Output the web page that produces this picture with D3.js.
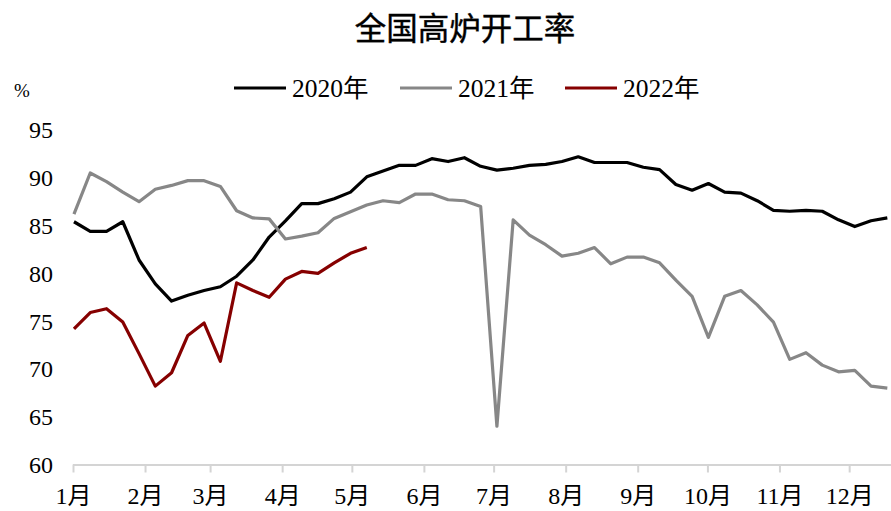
<!DOCTYPE html>
<html>
<head>
<meta charset="utf-8">
<script src="https://cdn.jsdelivr.net/npm/d3@7"></script>
<style>
  body { margin: 0; background: #fff; }
  svg text { font-family: "Liberation Serif", "Noto Sans CJK SC", serif; fill: #000; }
</style>
</head>
<body>
<script>
// weekly blast furnace utilisation (%), one value per week from early Jan
const s2020 = [85.4, 84.4, 84.4, 85.4, 81.4, 78.9, 77.1, 77.7, 78.2, 78.6,
  79.7, 81.4, 83.8, 85.5, 87.3, 87.3, 87.8, 88.5, 90.1, 90.7,
  91.3, 91.3, 92.0, 91.7, 92.1, 91.2, 90.8, 91.0, 91.3, 91.4,
  91.7, 92.2, 91.6, 91.6, 91.6, 91.1, 90.85, 89.3, 88.7, 89.4,
  88.5, 88.4, 87.6, 86.6, 86.5, 86.6, 86.5, 85.6, 84.9, 85.5, 85.8];
const s2021 = [86.2, 90.5, 89.6, 88.5, 87.5, 88.8, 89.2, 89.7, 89.7, 89.1,
  86.55, 85.8, 85.7, 83.6, 83.9, 84.25, 85.75, 86.45, 87.15, 87.6,
  87.4, 88.3, 88.3, 87.7, 87.6, 87.0, 64.0, 85.6, 84.0, 83.0,
  81.8, 82.1, 82.7, 81.0, 81.7, 81.7, 81.1, 79.3, 77.6, 73.3,
  77.6, 78.2, 76.7, 74.9, 71.0, 71.7, 70.4, 69.7, 69.85, 68.2, 68.0];
const s2022 = [74.2, 75.9, 76.3, 74.9, 71.6, 68.2, 69.6, 73.5, 74.8, 70.8,
  79.0, 78.2, 77.5, 79.4, 80.2, 80.0, 81.1, 82.1, 82.7];

const monthLabels = ["1月", "2月", "3月", "4月", "5月", "6月", "7月", "8月", "9月", "10月", "11月", "12月"];
const yTicks = [60, 65, 70, 75, 80, 85, 90, 95];

const seriesNames = ["2020年", "2021年", "2022年"];
const seriesColors = ["#000000", "#878787", "#860000"];
const seriesData = [s2020, s2021, s2022];

const width = 891, height = 511;
const baseYear = 2021; // common calendar for all years

const weekDate = (i) => new Date(baseYear, 0, 1 + 7 * i, 10);

const x = d3.scaleTime()
  .domain([new Date(baseYear, 0, 1), new Date(baseYear, 11, 19)])
  .range([73, 891]);
const y = d3.scaleLinear().domain([60, 95]).range([464.5, 130]);

const svg = d3.select("body").append("svg")
  .attr("width", width)
  .attr("height", height);

// title
svg.append("text")
  .attr("x", 465)
  .attr("y", 40)
  .attr("text-anchor", "middle")
  .style("font-family", "'Noto Sans CJK SC', sans-serif")
  .style("font-size", "31.5px")
  .style("stroke", "#000")
  .style("stroke-width", 0.4)
  .text("全国高炉开工率");

svg.append("text")
  .attr("x", 14)
  .attr("y", 97)
  .style("font-size", "19px")
  .text("%");

// y labels (no axis line)
svg.append("g")
  .selectAll("text")
  .data(yTicks)
  .join("text")
  .attr("x", 53)
  .attr("y", (d) => y(d))
  .attr("dy", "0.35em")
  .attr("text-anchor", "end")
  .style("font-size", "24px")
  .text((d) => d);

// x axis
const monthStarts = d3.range(12).map((m) => new Date(baseYear, m, 1));
const xAxis = d3.axisBottom(x)
  .tickValues(monthStarts)
  .tickSize(8)
  .tickFormat((d, i) => monthLabels[i]);

const gx = svg.append("g")
  .attr("transform", "translate(0," + y(60) + ")")
  .call(xAxis);
gx.select(".domain").attr("stroke", "#d4d4d4").attr("stroke-width", 2).attr("d", "M73,0.5H891");
gx.selectAll(".tick line").attr("stroke", "#d4d4d4").attr("stroke-width", 2);
gx.selectAll(".tick text")
  .attr("y", 22)
  .style("font-size", "24px")
  .style("font-family", "'Liberation Serif', 'Noto Sans CJK SC', serif");

// lines
const line = d3.line()
  .x((d, i) => x(weekDate(i)))
  .y((d) => y(d));

svg.append("g")
  .selectAll("path")
  .data(seriesData)
  .join("path")
  .attr("fill", "none")
  .attr("stroke", (d, i) => seriesColors[i])
  .attr("stroke-width", 3.2)
  .attr("stroke-linejoin", "round")
  .attr("d", line);

// legend
const legendX = [234, 400, 565];
const legend = svg.append("g")
  .selectAll("g")
  .data(seriesNames)
  .join("g")
  .attr("transform", (d, i) => "translate(" + legendX[i] + ",88)");

legend.append("line")
  .attr("x1", 0)
  .attr("x2", 52)
  .attr("stroke", (d, i) => seriesColors[i])
  .attr("stroke-width", 3.2);

legend.append("text")
  .attr("x", 58)
  .attr("y", 9)
  .style("font-size", "25.5px")
  .text((d) => d);
</script>
</body>
</html>
